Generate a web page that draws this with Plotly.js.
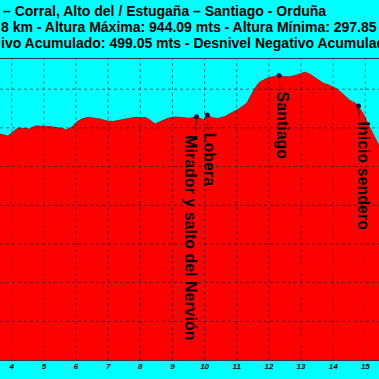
<!DOCTYPE html>
<html>
<head>
<meta charset="utf-8">
<script src="https://cdn.plot.ly/plotly-3.0.1.min.js"></script>
<style>html,body{margin:0;padding:0;background:#00ffff;overflow:hidden}#chart{width:379px;height:379px}</style>
</head>
<body>
<div id="chart"></div>
<script>
// Elevation profile (km, metres)
const distKm = [3.60,3.636,3.760,3.885,4.040,4.196,4.414,4.569,4.725,4.942,5.191,5.409,5.596,5.689,5.876,6.031,6.186,6.373,6.529,6.746,6.964,7.151,7.306,7.462,7.617,7.835,8.053,8.146,8.302,8.458,8.613,8.862,9.080,9.329,9.547,9.733,9.857,9.982,10.075,10.231,10.418,10.635,10.853,11.040,11.195,11.320,11.413,11.506,11.569,11.662,11.724,11.818,11.942,12.097,12.315,12.501,12.657,12.875,13.061,13.124,13.279,13.372,13.528,13.683,13.901,14.088,14.212,14.368,14.523,14.679,14.772,14.897,14.990,15.052,15.208,15.301,15.425,15.46];
const altM = [786,784.2,781.6,779.0,789.4,799.7,798.4,797.1,804.9,804.9,803.6,800.5,798.4,794.4,802.3,816.0,823.0,827.4,826.3,823.0,817.8,816.5,819.1,821.7,825.6,827.4,826.3,827.4,820.4,810.1,816.0,824.8,828.2,826.3,824.8,828.9,824.8,820.4,835.1,826.3,824.3,829.4,839.8,847.5,856.6,864.3,879.9,895.4,903.1,913.5,919.4,922.5,928.2,931.6,935.4,932.3,932.3,936.7,943.2,944.09,938.5,932.8,923.8,916.0,909.6,901.8,894.1,882.4,870.8,864.3,857.4,841.1,828.2,815.2,789.4,773.9,755.8,748];

// Waypoints
const wpNames = ["Mirador y salto del Nervión","Lobera","Santiago","Inicio sendero"];
const wpKm = [9.748,10.084,12.314,14.787];
const wpAlt = [828.9,833.3,935.2,856.6];

// Axis ticks / grid
const xTicks = [4,5,6,7,8,9,10,11,12,13,14,15];
const yGrid = [300,400,500,600,700,800,900];

// Title lines (visible part)
const titleLines = [
  "– Corral, Alto del / Estugaña – Santiago - Orduña",
  "8 km - Altura Máxima: 944.09 mts - Altura Mínima: 297.85",
  "ivo Acumulado: 499.05 mts - Desnivel Negativo Acumulad"
];

const W = 379, plotTop = 59, plotBot = 360;
const pY = px => (plotBot - px) / (plotBot - plotTop);

// label offsets (pixels) from waypoint to text centre
const wpOffX = [-6, 2, 3, 5];
const wpOffY = [121, 44, 50, 70];

const traces = [
  {x: distKm, y: altM, type: 'scatter', mode: 'lines', fill: 'tozeroy',
   fillcolor: '#ff0000', line: {color: '#c00000', width: 0.8}, hoverinfo: 'skip'},
  {x: wpKm, y: wpAlt, type: 'scatter', mode: 'markers',
   marker: {color: '#101040', size: 5}, hoverinfo: 'skip'}
];

const shapes = [];
xTicks.forEach(v => shapes.push({type:'line', xref:'x', yref:'paper', x0:v, x1:v, y0:0, y1:1,
  layer:'above', line:{color:'rgba(0,0,0,0.5)', width:1, dash:'dot'}}));
yGrid.forEach(v => shapes.push({type:'line', xref:'paper', yref:'y', x0:0, x1:1, y0:v, y1:v,
  layer:'above', line:{color:'rgba(0,0,0,0.5)', width:1, dash:'dot'}}));

const annotations = [];
const titleY = [10.5, 27, 42.5];
const titleX = [1, -1, -1];
titleLines.forEach((t, i) => annotations.push({
  text: t, xref:'paper', yref:'paper', x: titleX[i]/W, y: pY(titleY[i]),
  xanchor:'left', yanchor:'middle', showarrow:false,
  font:{family:'Liberation Sans, Arial, sans-serif', size:14, weight:'bold', color:'#000'}
}));
wpNames.forEach((n, i) => annotations.push({
  text: n, x: wpKm[i], y: wpAlt[i], xref:'x', yref:'y',
  showarrow:true, arrowhead:0, arrowwidth:1, arrowcolor:'#402020',
  ax: wpOffX[i], ay: wpOffY[i], textangle: 90,
  font:{family:'Liberation Sans, Arial, sans-serif', size:16, weight:'bold', color:'#000'}
}));

const layout = {
  width: 379, height: 379,
  margin: {l:0, r:0, t:plotTop, b:379-plotBot, pad:0},
  paper_bgcolor:'#00ffff', plot_bgcolor:'#00ffff',
  showlegend:false,
  xaxis: {range:[3.636, 15.425], tickvals: xTicks, ticktext: xTicks.map(String),
    showgrid:false, zeroline:false, showline:true, mirror:true, linecolor:'#333', linewidth:1,
    ticks:'', ticklabelstandoff:-2,
    tickfont:{family:'Liberation Sans, Arial, sans-serif', size:8, weight:'bold', style:'italic', color:'#000'}},
  yaxis: {range:[200, 978], showgrid:false, zeroline:false, showticklabels:false, showline:false},
  shapes: shapes,
  annotations: annotations
};

Plotly.newPlot('chart', traces, layout, {displayModeBar:false, staticPlot:true});
</script>
</body>
</html>
